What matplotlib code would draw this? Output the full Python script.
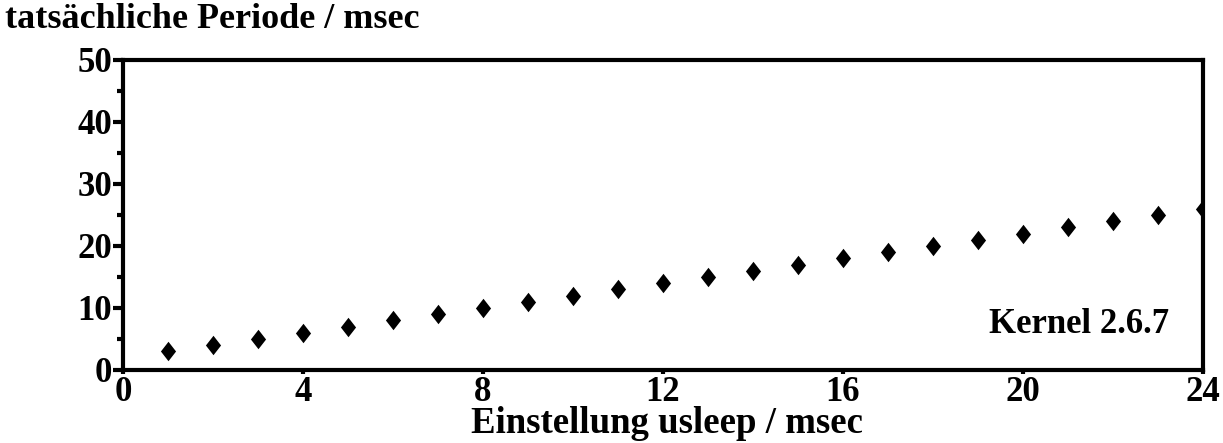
import matplotlib
matplotlib.use("Agg")
import matplotlib.pyplot as plt
from matplotlib.ticker import MultipleLocator
from matplotlib.path import Path

setting_ms = [1, 2, 3, 4, 5, 6, 7, 8, 9, 10, 11, 12, 13, 14, 15, 16, 17, 18, 19, 20, 21, 22, 23, 24]
actual_ms = [3, 4, 5, 6, 7, 8, 9, 10, 11, 12, 13, 14, 15, 16, 17, 18, 19, 20, 21, 22, 23, 24, 25, 26]
x_ticks = [0, 4, 8, 12, 16, 20, 24]
y_ticks = [0, 10, 20, 30, 40, 50]

plt.rcParams['font.family'] = ['Liberation Serif', 'DejaVu Serif']
plt.rcParams['font.weight'] = 'bold'

FS = 25

fig = plt.figure(figsize=(12.23, 4.43), dpi=100)
ax = fig.add_axes([0.1006, 0.1648, 0.8830, 0.6998])

diamond = Path([(0, 1), (0.78, 0), (0, -1), (-0.78, 0), (0, 1)],
               [Path.MOVETO, Path.LINETO, Path.LINETO, Path.LINETO, Path.CLOSEPOLY])
ax.plot(setting_ms, actual_ms, linestyle='none', marker=diamond, color='black',
        markersize=14, markeredgewidth=0)

ax.set_xlim(0, 24)
ax.set_ylim(0, 50)
ax.set_xticks(x_ticks)
ax.set_yticks(y_ticks)
ax.yaxis.set_minor_locator(MultipleLocator(5))
ax.set_xticklabels([str(v) for v in x_ticks], fontsize=FS, fontweight='bold')
ax.set_yticklabels([str(v) for v in y_ticks], fontsize=FS, fontweight='bold')

for s in ax.spines.values():
    s.set_linewidth(3)
    s.set_color('black')

ax.tick_params(axis='y', which='major', direction='out', length=7, width=3, pad=1)
ax.tick_params(axis='y', which='minor', direction='out', length=4, width=3)
ax.tick_params(axis='x', which='major', direction='out', length=3, width=3, pad=1)

fig.text(0.5454, 0.045, 'Einstellung usleep / msec', fontsize=26.5, fontweight='bold',
         ha='center', va='center')
fig.text(0.004, 0.955, 'tatsächliche Periode / msec', fontsize=26, fontweight='bold',
         ha='left', va='center')
ax.text(23.25, 7.3, 'Kernel 2.6.7', fontsize=FS, fontweight='bold', ha='right', va='center')

fig.savefig('out.png', dpi=100)
